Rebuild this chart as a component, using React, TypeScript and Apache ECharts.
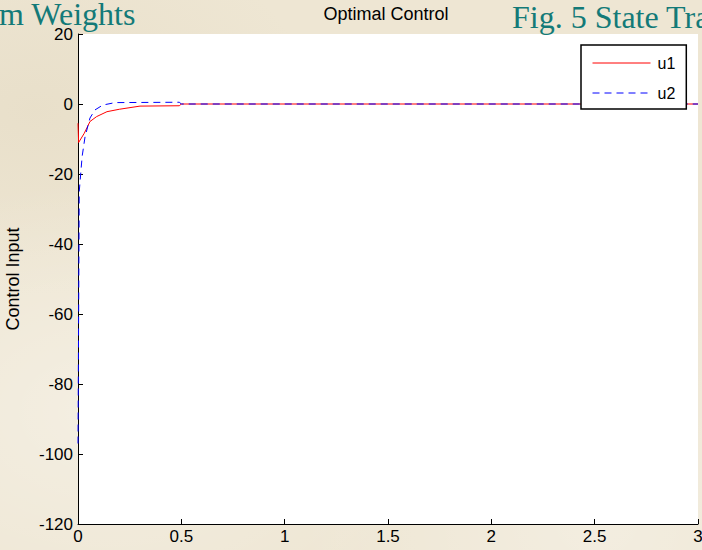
import React, { useEffect, useRef } from "react";
import * as echarts from "echarts";

const xTicks = { min: 0, max: 3, interval: 0.5 };
const yTicks = { min: -120, max: 20, interval: 20 };

const u1Time = [0, 0.003, 0.03, 0.058, 0.09, 0.14, 0.2, 0.3, 0.49, 0.5, 3];
const u1Values = [-5.5, -11, -8.4, -5, -3.6, -2.2, -1.5, -0.6, -0.5, 0, 0];

const u2Time = [0, 0.006, 0.02, 0.034, 0.058, 0.082, 0.12, 0.18, 0.49, 0.5, 3];
const u2Values = [-97, -25, -15, -9.4, -4, -1.7, -0.3, 0.4, 0.5, 0, 0];

const seriesNames = ["u1", "u2"];
const titleText = "Optimal Control";
const yLabel = "Control Input";
const leftBanner = "m Weights";
const rightBanner = "Fig. 5 State Tra";

const sans = 'Arial, "Liberation Sans", sans-serif';
const serif = '"Times New Roman", "Liberation Serif", serif';

export default function App() {
  const ref = useRef<HTMLDivElement>(null);
  useEffect(() => {
    if (!ref.current) return;
    const chart = echarts.init(ref.current, null, { renderer: "svg" });
    const pairs = (t: number[], v: number[]) => t.map((x, i) => [x, v[i]]);
    chart.setOption({
      animation: false,
      backgroundColor: "transparent",
      textStyle: { fontFamily: sans },
      title: {
        text: titleText,
        left: 386,
        top: 5,
        padding: 0,
        textAlign: "center",
        textStyle: { fontFamily: sans, fontSize: 18, fontWeight: "normal", color: "#000" },
      },
      graphic: [
        {
          type: "text",
          x: -1,
          y: 14,
          silent: true,
          style: {
            text: leftBanner,
            font: `32px ${serif}`,
            fill: "#137a78",
            align: "left",
            verticalAlign: "middle",
          },
        },
        {
          type: "text",
          x: 512,
          y: 17,
          silent: true,
          style: {
            text: rightBanner,
            font: `32px ${serif}`,
            fill: "#137a78",
            align: "left",
            verticalAlign: "middle",
          },
        },
      ],
      legend: {
        orient: "vertical",
        left: 581,
        top: 45,
        padding: [10, 11, 8, 11],
        itemWidth: 58,
        itemHeight: 14,
        itemGap: 14,
        backgroundColor: "#fff",
        borderColor: "#000",
        borderWidth: 1.5,
        itemStyle: { opacity: 0 },
        lineStyle: { width: 1 },
        textStyle: { fontFamily: sans, fontSize: 16, color: "#000", padding: [0, 0, 0, 2] },
        data: seriesNames,
      },
      grid: {
        left: 78,
        right: 4,
        top: 34,
        bottom: 26,
        show: true,
        backgroundColor: "#fff",
        borderWidth: 0,
        outerBoundsMode: "none",
        containLabel: false,
      },
      xAxis: {
        type: "value",
        min: xTicks.min,
        max: xTicks.max,
        interval: xTicks.interval,
        axisLine: { show: true, onZero: false, lineStyle: { color: "#000", width: 1 } },
        axisTick: { show: true, inside: true, length: 5, lineStyle: { color: "#000" } },
        axisLabel: { color: "#000", fontSize: 17, fontFamily: sans, margin: 4 },
        splitLine: { show: false },
      },
      yAxis: {
        type: "value",
        min: yTicks.min,
        max: yTicks.max,
        interval: yTicks.interval,
        name: yLabel,
        nameLocation: "middle",
        nameGap: 56,
        nameTextStyle: { color: "#000", fontSize: 18, fontFamily: sans },
        axisLine: { show: true, onZero: false, lineStyle: { color: "#000", width: 1 } },
        axisTick: { show: true, inside: true, length: 5, lineStyle: { color: "#000" } },
        axisLabel: { color: "#000", fontSize: 17, fontFamily: sans, margin: 5 },
        splitLine: { show: false },
      },
      series: [
        {
          name: seriesNames[0],
          type: "line",
          data: pairs(u1Time, u1Values),
          showSymbol: false,
          symbol: "none",
          lineStyle: { color: "#ff0000", width: 1 },
          itemStyle: { color: "#ff0000" },
        },
        {
          name: seriesNames[1],
          type: "line",
          data: pairs(u2Time, u2Values),
          showSymbol: false,
          symbol: "none",
          lineStyle: { color: "#0000ff", width: 1, type: [7, 5] },
          itemStyle: { color: "#0000ff" },
        },
      ],
    });
    return () => chart.dispose();
  }, []);
  return (
    <div
      style={{
        position: "fixed",
        left: 0,
        top: 0,
        width: 702,
        height: 550,
        background:
          "radial-gradient(ellipse at 15% 75%, rgba(255,255,255,0.35), rgba(255,255,255,0) 40%), radial-gradient(ellipse at 85% 95%, rgba(255,255,255,0.3), rgba(255,255,255,0) 35%), radial-gradient(ellipse at 5% 20%, rgba(200,185,150,0.15), rgba(200,185,150,0) 30%), #eee6d3",
      }}
    >
      <div ref={ref} style={{ width: 702, height: 550 }} />
    </div>
  );
}
